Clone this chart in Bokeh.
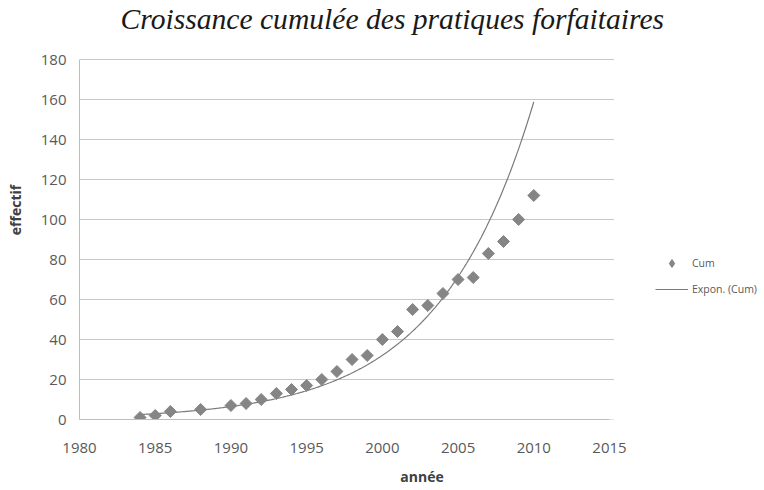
import numpy as np
from bokeh.plotting import figure
from bokeh.models import Legend, LegendItem, FixedTicker, Range1d, Label
from bokeh.embed import file_html
from bokeh.resources import INLINE

# ---- data ----
years = [1984, 1985, 1986, 1988, 1990, 1991, 1992, 1993, 1994, 1995, 1996,
         1997, 1998, 1999, 2000, 2001, 2002, 2003, 2004, 2005, 2006, 2007,
         2008, 2009, 2010]
cum = [1, 2, 4, 5, 7, 8, 10, 13, 15, 17, 20, 24, 30, 32, 40, 44, 55, 57,
       63, 70, 71, 83, 89, 100, 112]
x_ticks = [1980, 1985, 1990, 1995, 2000, 2005, 2010, 2015]
y_ticks = [0, 20, 40, 60, 80, 100, 120, 140, 160, 180]
title_text = "Croissance cumulée des pratiques forfaitaires"
x_label = "année"
y_label = "effectif"
series_name = "Cum"
trend_name = "Expon. (Cum)"

# exponential trendline (least squares on log values, as the spreadsheet does)
b, a = np.polyfit(np.array(years, dtype=float), np.log(np.array(cum, dtype=float)), 1)
trend_x = np.linspace(years[0], years[-1], 300)
trend_y = np.exp(a + b * trend_x)

# layout: axis area 1980..2015 spans 530 px, 0..180 spans 360 px;
# the frame is extended to the right and top edges (legend and title live there)
W, H = 764, 490
LEFT, BOTTOM = 79, 71
AXIS_W, AXIS_H, AXIS_TOP = 530, 360, 59
x_end = x_ticks[-1] + (W - LEFT - AXIS_W) * (x_ticks[-1] - x_ticks[0]) / AXIS_W
y_end = y_ticks[-1] + AXIS_TOP * (y_ticks[-1] - y_ticks[0]) / AXIS_H

p = figure(width=W, height=H, output_backend="svg", toolbar_location=None,
           x_range=Range1d(x_ticks[0], x_end),
           y_range=Range1d(y_ticks[0], y_end),
           min_border_left=LEFT, min_border_right=0,
           min_border_top=0, min_border_bottom=BOTTOM)

p.background_fill_color = "white"
p.border_fill_color = "white"
p.outline_line_color = None
p.xgrid.visible = False
p.ygrid.visible = False

# horizontal gridlines limited to the axis span
p.segment(x0=[x_ticks[0]] * len(y_ticks), x1=[x_ticks[-1] + 0.3] * len(y_ticks),
          y0=y_ticks, y1=y_ticks, line_color="#c8c8c8", line_width=1)

p.xaxis.ticker = FixedTicker(ticks=x_ticks)
p.yaxis.ticker = FixedTicker(ticks=y_ticks)
p.xaxis.bounds = (x_ticks[0], x_ticks[-1])
p.yaxis.bounds = (y_ticks[0], y_ticks[-1])
for ax in (p.xaxis[0], p.yaxis[0]):
    ax.axis_line_color = "#bdbdbd"
    ax.major_tick_in = 0
    ax.major_tick_out = 0
    ax.minor_tick_in = 0
    ax.minor_tick_out = 0
    ax.major_label_text_font = "Open Sans"
    ax.major_label_text_font_size = "15px"
    ax.major_label_text_color = "#595959"
    ax.axis_label_text_font = "Open Sans"
    ax.axis_label_text_font_size = "14px"
    ax.axis_label_text_font_style = "bold"
    ax.axis_label_text_color = "#404040"
p.xaxis.axis_label = x_label
p.yaxis.axis_label = y_label
p.xaxis.major_label_standoff = 23
p.xaxis.axis_label_standoff = 11
p.yaxis.major_label_standoff = 13
p.yaxis.axis_label_standoff = 13

title = Label(x=41, y=H - BOTTOM - 18, x_units="screen", y_units="screen",
              text=title_text, text_font="Liberation Serif",
              text_font_style="italic", text_font_size="29.6px",
              text_color="#1a1a1a", text_baseline="alphabetic")
p.add_layout(title)

line_r = p.line(trend_x, trend_y, line_color="#7a7a7a", line_width=1.2)
pts_r = p.scatter(years, cum, marker="square", angle=np.pi / 4, size=8.5,
                  fill_color="#858585", line_color="#858585")
# legend swatch (diamond shape) for the scatter series
leg_r = p.scatter(years, cum, marker="diamond", size=12,
                  fill_color="#858585", line_color="#858585", visible=False)

legend = Legend(items=[LegendItem(label=series_name, renderers=[leg_r]),
                       LegendItem(label=trend_name, renderers=[line_r])],
                location=(576, 120), padding=0, margin=0, spacing=6,
                glyph_width=33, glyph_height=20, label_standoff=4,
                label_text_font="Open Sans", label_text_font_size="10.5px",
                label_text_color="#595959",
                background_fill_alpha=0, border_line_alpha=0)
p.add_layout(legend, "center")

open("out.html", "w").write(file_html(p, INLINE))
